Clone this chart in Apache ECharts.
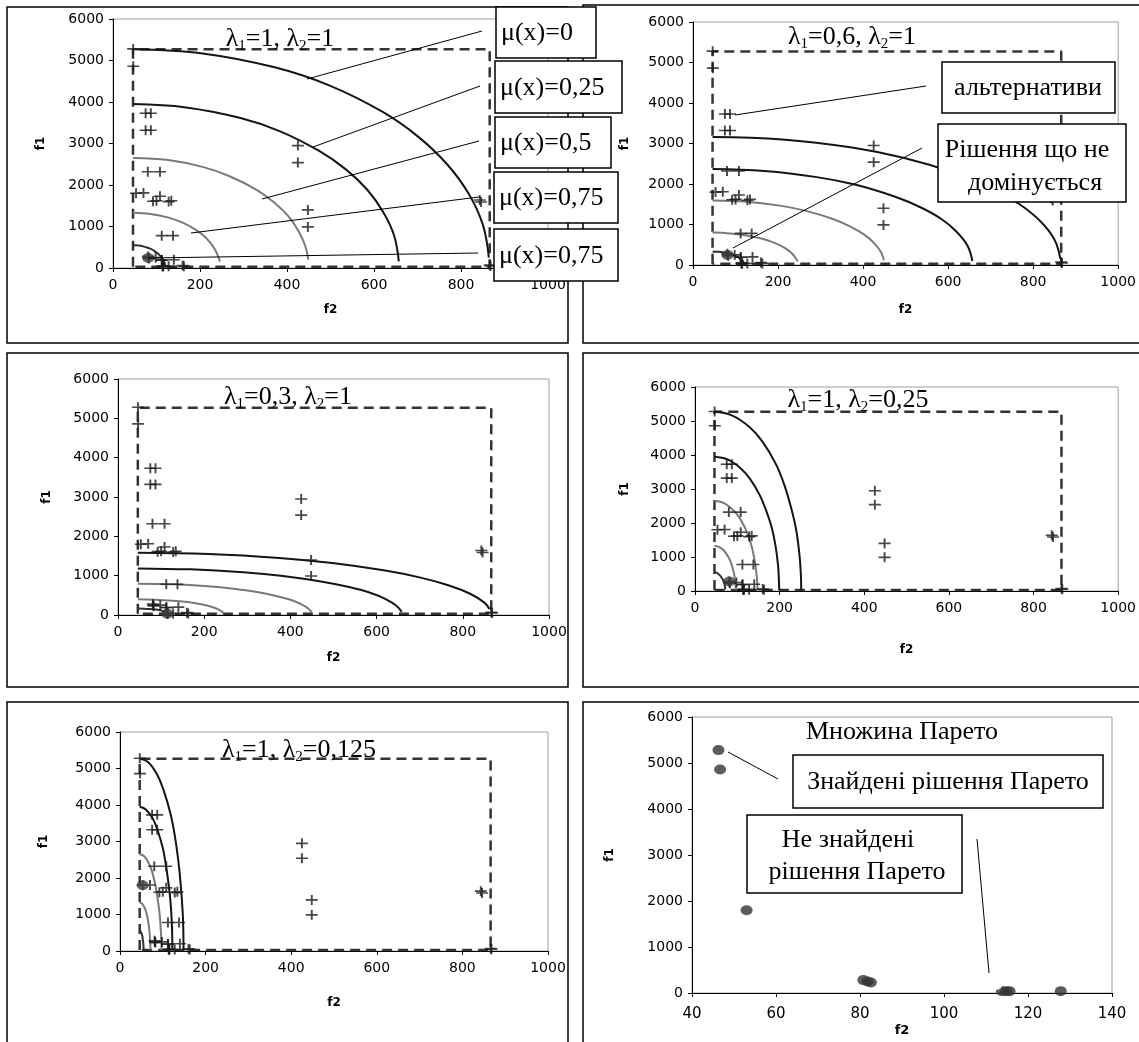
<!DOCTYPE html>
<html><head><meta charset="utf-8">
<script src="https://cdn.jsdelivr.net/npm/echarts@6/dist/echarts.min.js"></script>
<style>html,body{margin:0;padding:0;background:#fff}#c{width:1139px;height:1042px}</style>
</head><body><div id="c"></div>
<script>
// ---------- tick labels ----------
const f1Ticks = [0, 1000, 2000, 3000, 4000, 5000, 6000];
const f2Ticks = [0, 200, 400, 600, 800, 1000];
const f2TicksPareto = [40, 60, 80, 100, 120, 140];

// ---------- alternatives [f2, f1] (same in panels 1-5) ----------
const alternatives = [
  [46.3,5280],[46.7,4860],
  [75,3730],[87,3730],[75,3320],[87,3320],
  [80,2320],[108,2320],
  [53,1800],[70,1810],[108,1730],
  [92,1610],[100,1620],[128,1600],[134,1620],
  [112,780],[138,780],
  [80.8,280],[81.8,250],[82.6,230],[98,250],[140,200],
  [111.8,190],[112.6,190],
  [113.8,40],[114.8,40],[115.6,40],[127.8,40],[160,60],[163,40],
  [425,2950],[425,2540],
  [448,1400],[448,990],
  [843,1640],[846,1590],
  [866,70],[868,50]
];

// dashed bounding box (ideal / anti-ideal values)
const boxF2 = [46, 866];
const boxF1 = [30, 5270];

// ---------- contour curves mu(x) levels, [f2, f1] ----------
// panel 1: lambda1=1, lambda2=1
const p1Mu0   = [[46,5270],[210,5165],[374,4830],[497,4400],[620,3760],[702,3160],[768,2500],[817,1800],[850,1050],[864,250]];
const p1Mu25  = [[46,3950],[168,3870],[291,3620],[383,3300],[474,2820],[536,2370],[585,1880],[621,1350],[646,790],[657,160]];
const p1Mu50  = [[46,2650],[127,2600],[208,2430],[268,2210],[329,1890],[369,1590],[402,1260],[426,900],[442,530],[449,200]];
const p1Mu75  = [[46,1330],[86,1300],[126,1220],[156,1110],[186,950],[206,800],[222,630],[234,450],[242,270],[246,150]];
const p1Mu100 = [[46,550],[61,540],[76,500],[87,460],[98,390],[105,330],[111,260],[116,190],[119,110],[120,60]];
// panel 2: lambda1=0.6, lambda2=1
const p2Mu0   = [[46,3160],[210,3100],[374,2900],[497,2640],[620,2260],[702,1900],[768,1500],[817,1080],[850,630],[864,150]];
const p2Mu25  = [[46,2370],[168,2320],[291,2170],[383,1980],[474,1690],[536,1420],[585,1130],[621,810],[646,470],[657,100]];
const p2Mu50  = [[46,1590],[127,1560],[208,1460],[268,1330],[329,1135],[369,955],[402,755],[426,540],[442,320],[449,120]];
const p2Mu75  = [[46,800],[86,780],[126,730],[156,665],[186,570],[206,480],[222,380],[234,270],[242,160],[246,90]];
const p2Mu100 = [[46,330],[61,325],[76,300],[87,275],[98,235],[105,200],[111,155],[116,115],[119,65],[120,35]];
// panel 3: lambda1=0.3, lambda2=1
const p3Mu0   = [[46,1580],[210,1550],[374,1450],[497,1320],[620,1130],[702,950],[768,750],[817,540],[850,315],[862,150]];
const p3Mu25  = [[46,1185],[168,1160],[291,1085],[383,990],[474,845],[536,710],[585,565],[621,405],[646,235],[658,80]];
const p3Mu50  = [[46,795],[127,780],[208,730],[268,665],[329,570],[369,475],[402,380],[426,270],[442,160],[450,60]];
const p3Mu75  = [[46,400],[86,390],[126,365],[156,335],[186,285],[206,240],[222,190],[234,135],[242,80],[246,40]];
const p3Mu100 = [[46,165],[61,162],[76,150],[87,138],[98,118],[105,100],[111,78],[116,56],[119,33],[120,15]];
// panel 4: lambda1=1, lambda2=0.25
const p4Mu0   = [[46,5270],[87,5165],[128,4830],[159,4400],[190,3760],[210,3160],[226,2500],[239,1800],[247,1050],[250,530],[251,30]];
const p4Mu25  = [[46,3950],[77,3870],[107,3620],[130,3300],[153,2820],[168,2370],[181,1880],[190,1350],[196,790],[198,400],[199,30]];
const p4Mu50  = [[46,2650],[66,2600],[86,2430],[102,2210],[117,1890],[127,1590],[135,1260],[141,900],[145,530],[147,260],[148,30]];
const p4Mu75  = [[46,1330],[56,1300],[66,1220],[73,1110],[81,950],[86,800],[90,630],[93,450],[95,270],[96,130],[96.5,30]];
const p4Mu100 = [[46,550],[51,540],[55,500],[59,460],[63,390],[66,330],[68,260],[70,190],[71,110],[72,50]];
// panel 5: lambda1=1, lambda2=0.125
const p5Mu0   = [[46,5270],[66.5,5165],[87,4830],[102,4400],[118,3760],[128,3160],[136,2500],[142,1800],[146.5,1050],[148,530],[148.5,30]];
const p5Mu25  = [[46,3950],[61,3870],[77,3620],[88,3300],[100,2820],[107,2370],[113,1880],[118,1350],[121,790],[122,400],[122.5,30]];
const p5Mu50  = [[46,2650],[56,2600],[66,2430],[74,2210],[81,1890],[86,1590],[90,1260],[93.5,900],[95.5,530],[96.5,260],[97,30]];
const p5Mu75  = [[46,1330],[51,1300],[56,1220],[60,1110],[63.5,950],[66,800],[68,630],[69.5,450],[70.5,270],[71,130],[71,30]];
const p5Mu100 = [[46,550],[48,540],[49.5,500],[51,460],[52.5,390],[53,330],[54,260],[54.5,190],[55,110],[55,30]];

// non-dominated solution found in each panel
const chosen = [[81,240],[81,250],[114,30],[81,280],[53,1800]];

// Pareto set (panel 6)
const paretoFound = [[46.3,5280],[46.7,4860],[53,1800],[80.8,280],[81.8,250],[82.6,230],[113.8,40],[114.8,40],[115.6,40],[127.8,40]];
const paretoNotFound = [[111.8,190],[112.6,190]];

// titles
const lambda1 = ['1', '0,6', '0,3', '1', '1'];
const lambda2 = ['1', '1', '1', '0,25', '0,125'];
const muLabels = ['μ(x)=0', 'μ(x)=0,25', 'μ(x)=0,5', 'μ(x)=0,75', 'μ(x)=0,75'];

// ---------- build ----------
const panelCurves = [
  [p1Mu0,p1Mu25,p1Mu50,p1Mu75,p1Mu100],
  [p2Mu0,p2Mu25,p2Mu50,p2Mu75,p2Mu100],
  [p3Mu0,p3Mu25,p3Mu50,p3Mu75,p3Mu100],
  [p4Mu0,p4Mu25,p4Mu50,p4Mu75,p4Mu100],
  [p5Mu0,p5Mu25,p5Mu50,p5Mu75,p5Mu100]
];
const curveColors = ['#151515','#151515','#7a7a7a','#7a7a7a','#303030'];

const grids = [
  {left:113, top:19,  width:435, height:249},
  {left:693, top:22,  width:437, height:243},
  {left:118, top:379, width:431, height:236},
  {left:695, top:387, width:431, height:204},
  {left:120, top:732, width:428, height:219},
  {left:692, top:717, width:420, height:276}
];
const xNameGap = [36, 39, 37, 53, 46, 31];
const yNameGap = [66, 62, 65, 64, 70, 76];

const SANS = 'DejaVu Sans';
const SERIF = 'Liberation Serif';

const xAxes = [], yAxes = [];
grids.forEach((g, i) => {
  const xt = i === 5 ? f2TicksPareto : f2Ticks;
  xAxes.push({
    gridIndex: i, type: 'value',
    min: xt[0], max: xt[xt.length-1], interval: xt[1]-xt[0],
    name: 'f2', nameLocation: 'middle', nameGap: xNameGap[i],
    nameTextStyle: {fontFamily: SANS, fontWeight: 'bold', fontSize: i===5?13:12, color: '#000'},
    axisLine: {show: true, onZero: false, lineStyle: {color: '#000', width: 1}},
    axisTick: {show: true, length: 4, lineStyle: {color: '#000'}},
    axisLabel: {fontFamily: SANS, fontSize: i===5?15:14, color: '#000', margin: i===5?14:10,
      formatter: v => String(v)},
    splitLine: {show: false}
  });
  yAxes.push({
    gridIndex: i, type: 'value',
    min: f1Ticks[0], max: f1Ticks[f1Ticks.length-1], interval: f1Ticks[1]-f1Ticks[0],
    name: 'f1', nameLocation: 'middle', nameGap: yNameGap[i],
    nameTextStyle: {fontFamily: SANS, fontWeight: 'bold', fontSize: 12, color: '#000'},
    axisLine: {show: true, onZero: false, lineStyle: {color: '#000', width: 1}},
    axisTick: {show: true, length: 4, lineStyle: {color: '#000'}},
    axisLabel: {fontFamily: SANS, fontSize: 14, color: '#000', margin: 9,
      formatter: v => String(v)},
    splitLine: {show: false}
  });
});

const plusPath = 'path://M0,4.2H10V5.8H0Z M4.2,0H5.8V10H4.2Z';
const series = [];
for (let i = 0; i < 5; i++) {
  series.push({
    type: 'line', xAxisIndex: i, yAxisIndex: i, silent: true,
    data: [[boxF2[0],boxF1[0]],[boxF2[0],boxF1[1]],[boxF2[1],boxF1[1]],[boxF2[1],boxF1[0]],[boxF2[0],boxF1[0]]],
    symbol: 'none', lineStyle: {color: '#333', width: 2.5, type: [10, 6]}, z: 2
  });
  panelCurves[i].forEach((c, k) => {
    series.push({
      type: 'line', xAxisIndex: i, yAxisIndex: i, silent: true,
      data: c, symbol: 'none', smooth: 0.4,
      lineStyle: {color: curveColors[k], width: 2}, z: 3
    });
  });
  series.push({
    type: 'scatter', xAxisIndex: i, yAxisIndex: i, silent: true,
    data: alternatives, symbol: plusPath, symbolSize: [12, 10],
    itemStyle: {color: '#1a1a1a'}, z: 4
  });
  series.push({
    type: 'scatter', xAxisIndex: i, yAxisIndex: i, silent: true,
    data: [chosen[i]], symbol: 'circle', symbolSize: [12, 10],
    itemStyle: {color: '#404040'}, z: 5
  });
}
series.push({
  type: 'scatter', xAxisIndex: 5, yAxisIndex: 5, silent: true,
  data: paretoFound, symbol: 'circle', symbolSize: [12, 10],
  itemStyle: {color: '#333'}, z: 4
});
series.push({
  type: 'scatter', xAxisIndex: 5, yAxisIndex: 5, silent: true,
  data: paretoNotFound, symbol: 'emptyCircle', symbolSize: 9,
  itemStyle: {color: '#fff', borderColor: '#333', borderWidth: 1.6}, z: 5
});

// ---------- annotations ----------
const graphic = [];
// panel frames
[[7,7,561,336],[583,5,570,338],[7,353,561,334],[583,353,570,334],[7,702,561,360],[583,702,570,360]].forEach(r => {
  graphic.push({type:'rect', z: 50, shape:{x:r[0], y:r[1], width:r[2], height:r[3]},
    style:{fill:'none', stroke:'#000', lineWidth:1.5}});
});
function txt(x, y, text, size, align, extra) {
  return Object.assign({type:'text', z: 70, x: x, y: y,
    style: {text: text, fontFamily: SERIF, fontSize: size, fill: '#000',
      align: align || 'center', textAlign: align || 'center',
      verticalAlign: 'middle', textVerticalAlign: 'middle'}}, extra || {});
}
function box(x, y, w, h) {
  return {type:'rect', z: 60, shape:{x:x, y:y, width:w, height:h},
    style:{fill:'#fff', stroke:'#000', lineWidth:1.5}};
}
function lead(x1, y1, x2, y2) {
  return {type:'line', z: 55, shape:{x1:x1, y1:y1, x2:x2, y2:y2}, style:{stroke:'#000', lineWidth:1}};
}
// lambda titles
const titlePos = [[280,39],[852,37],[288,397],[858,400],[299,750]];
titlePos.forEach((p, i) => {
  graphic.push({type:'text', z: 70, x: p[0], y: p[1], style: {
    text: '{n|λ}{s|1}{n|=' + lambda1[i] + ', λ}{s|2}{n|=' + lambda2[i] + '}',
    align:'center', textAlign:'center', verticalAlign:'middle', textVerticalAlign:'middle',
    rich: {
      n: {fontFamily: SERIF, fontSize: 26, lineHeight: 34, fill:'#000', color:'#000'},
      s: {fontFamily: SERIF, fontSize: 15, padding:[14,0,0,0], fill:'#000', color:'#000'}
    }}});
});
// mu boxes with leader lines (panel 1)
const muBoxes = [[496,7,100,51],[495,61,127,52],[495,117,116,51],[494,172,124,51],[494,229,124,52]];
const muLeads = [[482,31,307,79],[480,86,313,147],[479,141,262,199],[479,197,191,233],[478,253,148,258]];
muLeads.forEach(l => graphic.push(lead(l[0],l[1],l[2],l[3])));
muBoxes.forEach((b, i) => {
  graphic.push(box(b[0],b[1],b[2],b[3]));
  graphic.push(txt(b[0]+5, b[1]+b[3]/2+1, muLabels[i], 26, 'left'));
});
// panel 2 callouts
graphic.push(lead(926,86,735,115));
graphic.push(lead(922,148,733,248));
graphic.push(box(942,62,173,51));
graphic.push(txt(1028,88,'альтернативи',26));
graphic.push(box(938,124,188,78));
graphic.push(txt(1027,150,'Рішення що не',26));
graphic.push(txt(1035,183,'домінується',26));
// panel 6 callouts
graphic.push(txt(902,732,'Множина Парето',26));
graphic.push(lead(728,752,778,779));
graphic.push(lead(977,839,989,973));
graphic.push(box(793,755,310,53));
graphic.push(txt(948,782,'Знайдені рішення Парето',26));
graphic.push(box(747,815,215,78));
graphic.push(txt(848,840,'Не знайдені',26));
graphic.push(txt(857,872,'рішення Парето',26));

const chart = echarts.init(document.getElementById('c'), null, {renderer:'canvas', width:1139, height:1042});
chart.setOption({
  backgroundColor: '#fff',
  animation: false,
  grid: grids.map(g => Object.assign({show:true, borderColor:'#a0a0a0', borderWidth:1, backgroundColor:'transparent'}, g)),
  xAxis: xAxes,
  yAxis: yAxes,
  series: series,
  graphic: graphic
});
</script>
</body></html>
